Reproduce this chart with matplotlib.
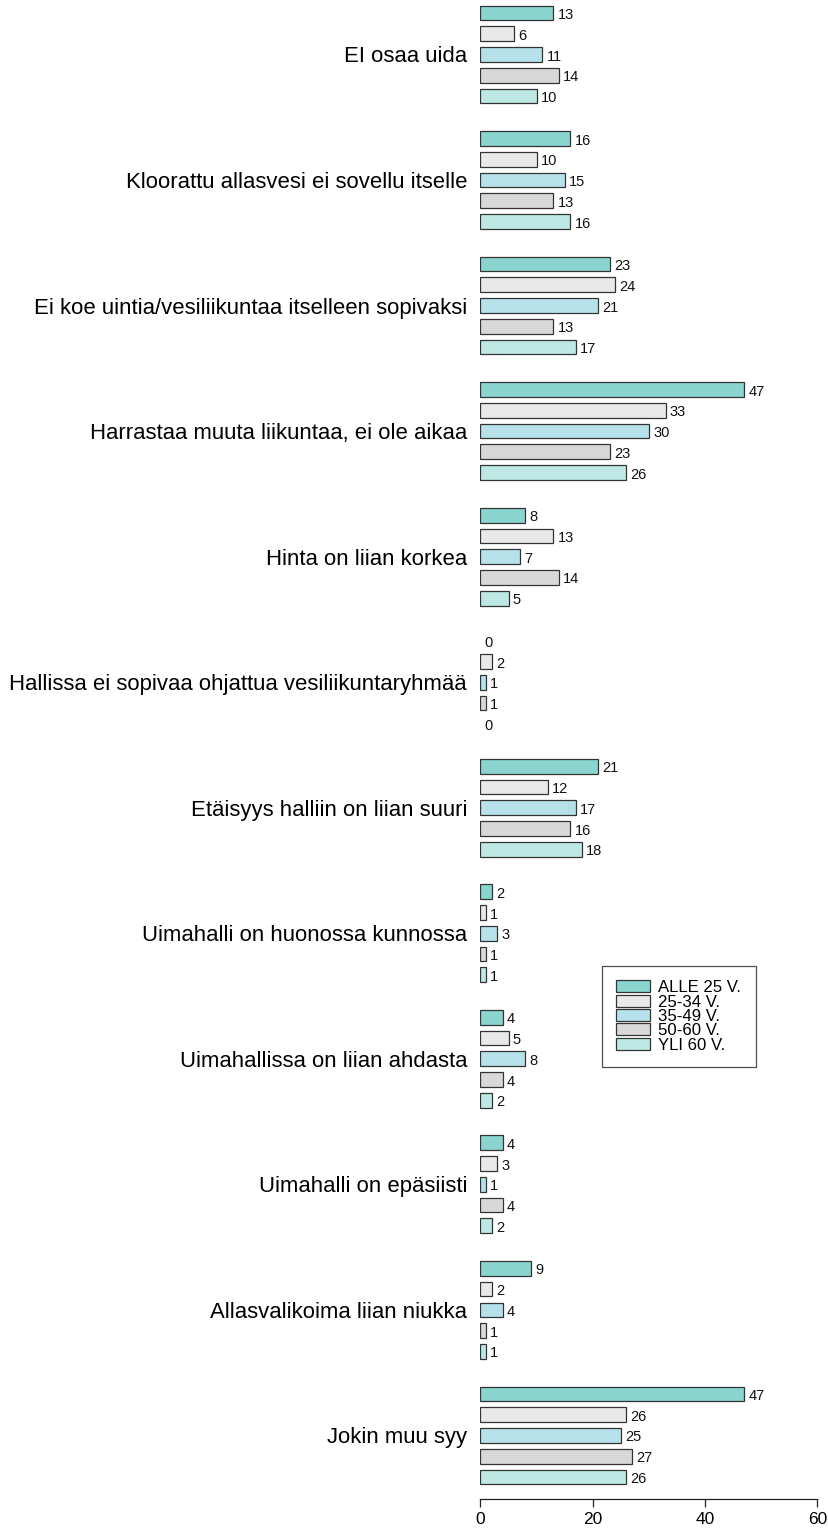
import matplotlib
matplotlib.use("Agg")
import matplotlib.pyplot as plt
import numpy as np

plt.rcParams['font.family'] = ['Liberation Sans', 'DejaVu Sans']

categories = [
    "EI osaa uida",
    "Kloorattu allasvesi ei sovellu itselle",
    "Ei koe uintia/vesiliikuntaa itselleen sopivaksi",
    "Harrastaa muuta liikuntaa, ei ole aikaa",
    "Hinta on liian korkea",
    "Hallissa ei sopivaa ohjattua vesiliikuntaryhmää",
    "Etäisyys halliin on liian suuri",
    "Uimahalli on huonossa kunnossa",
    "Uimahallissa on liian ahdasta",
    "Uimahalli on epäsiisti",
    "Allasvalikoima liian niukka",
    "Jokin muu syy",
]
series_names = ["ALLE 25 V.", "25-34 V.", "35-49 V.", "50-60 V.", "YLI 60 V."]
alle25 = [13, 16, 23, 47, 8, 0, 21, 2, 4, 4, 9, 47]
v25_34 = [6, 10, 24, 33, 13, 2, 12, 1, 5, 3, 2, 26]
v35_49 = [11, 15, 21, 30, 7, 1, 17, 3, 8, 1, 4, 25]
v50_60 = [14, 13, 13, 23, 14, 1, 16, 1, 4, 4, 1, 27]
yli60 = [10, 16, 17, 26, 5, 0, 18, 1, 2, 2, 1, 26]
series = [alle25, v25_34, v35_49, v50_60, yli60]
colors = ["#8AD5D0", "#E8E8E8", "#B6E1EA", "#D8D8D8", "#BDE8E4"]
xticks = [0, 20, 40, 60]

W, H = 829, 1528
fig = plt.figure(figsize=(W / 100, H / 100), dpi=100)
px_left, px_right = 480.5, 817.3
px_top, px_bottom = 0, 1499
ax = fig.add_axes([px_left / W, 1 - px_bottom / H, (px_right - px_left) / W, (px_bottom - px_top) / H])

step = 20.75
group_step = 6.05
y0 = 13
u_top = (px_top - y0) / step
u_bot = (px_bottom - y0) / step

bar_h = 0.71
for si, (vals, col) in enumerate(zip(series, colors)):
    ys = [g * group_step + si for g in range(len(categories))]
    lws = [0 if v == 0 else 0.9 for v in vals]
    ax.barh(ys, vals, height=bar_h, color=col, edgecolor="#333333", linewidth=lws,
            label=series_names[si])
    for y, v in zip(ys, vals):
        ax.annotate(str(v), (v, y), xytext=(3.0, -1.5), textcoords="offset points",
                    ha="left", va="center", fontsize=10.5, color="#111111")

centers = [g * group_step + 2 for g in range(len(categories))]
ax.set_yticks(centers)
ax.set_yticklabels(categories, fontsize=15.9)
ax.tick_params(axis="y", length=0, pad=9.7)

ax.set_xlim(0, 60)
ax.set_ylim(u_bot, u_top)
ax.set_xticks(xticks)
ax.set_xticklabels([str(t) for t in xticks], fontsize=12.5)
ax.tick_params(axis="x", length=5.5, width=0.9, pad=3.5, color="#222222")
for s in ["top", "right", "left"]:
    ax.spines[s].set_visible(False)
ax.spines["bottom"].set_linewidth(0.9)
ax.spines["bottom"].set_color("#222222")

leg = ax.legend(loc="upper left", bbox_to_anchor=(602 / W, 1 - 966 / H),
                bbox_transform=fig.transFigure, fontsize=12.1, frameon=True,
                fancybox=False, edgecolor="#222222", handlelength=2.0,
                handleheight=0.72, labelspacing=-0.04, handletextpad=0.5,
                borderpad=0.85, borderaxespad=0)
leg.get_frame().set_linewidth(0.9)

fig.savefig("out.png", dpi=100)
